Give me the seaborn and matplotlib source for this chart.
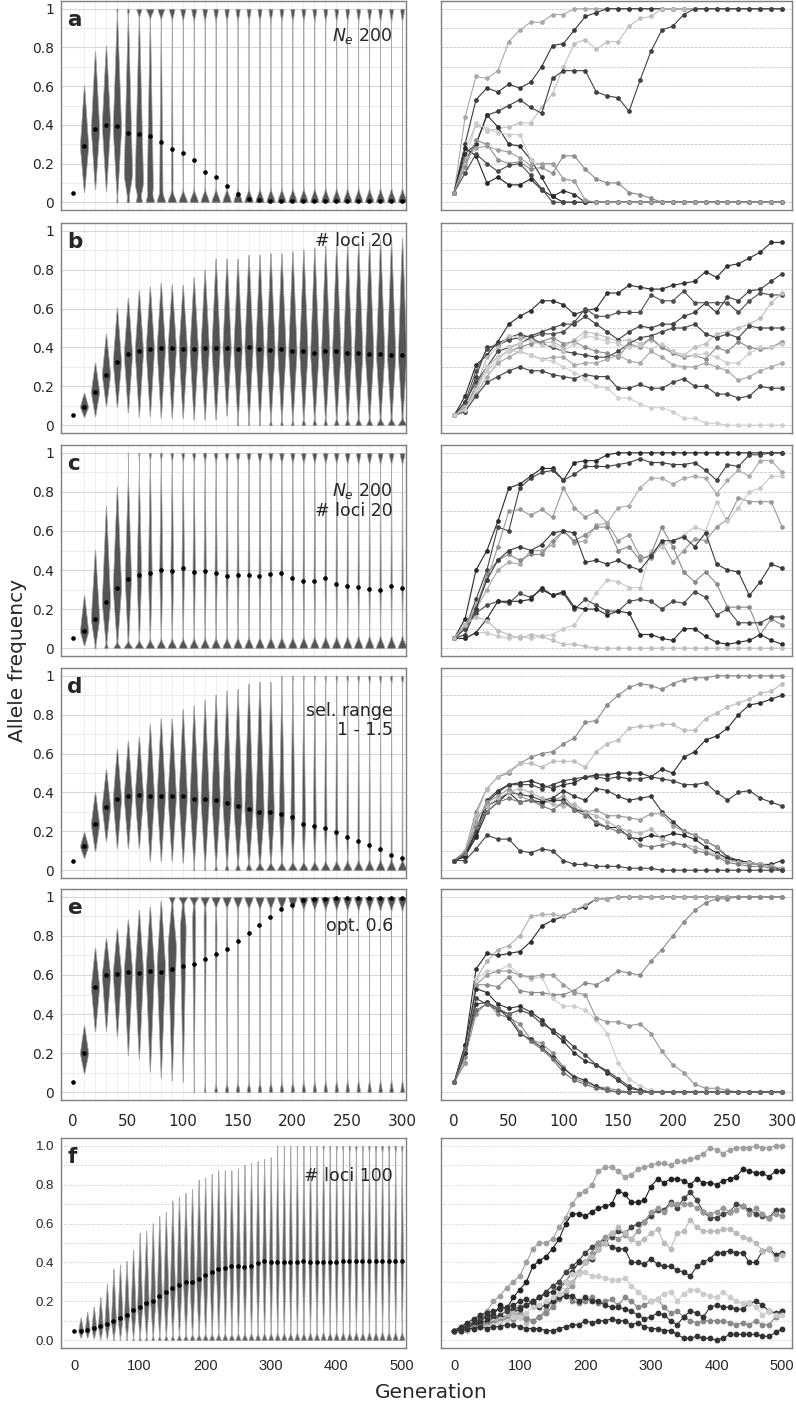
import numpy as np
import pandas as pd
import matplotlib
matplotlib.use("Agg")
import matplotlib.pyplot as plt
import seaborn as sns

# generations (one violin / one point every 10 generations)
gens_300 = list(range(0, 301, 10))
gens_500 = list(range(0, 501, 10))

# ---------------- left column: median dots ----------------
a_med = [0.05, 0.29, 0.38, 0.40, 0.395, 0.36, 0.355, 0.34, 0.31, 0.275,
         0.255, 0.22, 0.155, 0.13, 0.085, 0.045, 0.015, 0.01, 0.005, 0.005,
         0.005, 0.005, 0.005, 0.005, 0.005, 0.005, 0.005, 0.005, 0.005, 0.005, 0.005]
b_med = [0.05, 0.095, 0.17, 0.26, 0.325, 0.365, 0.38, 0.39, 0.395, 0.395,
         0.39, 0.39, 0.395, 0.395, 0.395, 0.39, 0.40, 0.39, 0.385, 0.39,
         0.38, 0.38, 0.37, 0.38, 0.38, 0.37, 0.37, 0.365, 0.365, 0.36, 0.36]
c_med = [0.05, 0.086, 0.15, 0.235, 0.31, 0.355, 0.375, 0.385, 0.40, 0.395,
         0.41, 0.39, 0.395, 0.385, 0.37, 0.375, 0.375, 0.37, 0.38, 0.385,
         0.36, 0.345, 0.345, 0.36, 0.33, 0.32, 0.315, 0.305, 0.30, 0.32, 0.31]
d_med = [0.05, 0.123, 0.237, 0.327, 0.365, 0.38, 0.385, 0.38, 0.38, 0.38,
         0.38, 0.365, 0.365, 0.36, 0.345, 0.33, 0.315, 0.30, 0.30, 0.29,
         0.275, 0.24, 0.23, 0.215, 0.195, 0.17, 0.15, 0.13, 0.11, 0.08, 0.065]
e_med = [0.05, 0.20, 0.54, 0.60, 0.605, 0.615, 0.61, 0.62, 0.615, 0.63,
         0.645, 0.655, 0.68, 0.705, 0.735, 0.775, 0.815, 0.855, 0.895, 0.94,
         0.96, 0.985, 0.99, 0.99, 0.995, 0.995, 0.995, 0.995, 0.995, 0.995, 0.995]
f_med = [0.05, 0.05, 0.055, 0.063, 0.072, 0.085, 0.097, 0.115, 0.13, 0.154,
         0.17, 0.19, 0.20, 0.225, 0.246, 0.27, 0.285, 0.30, 0.30, 0.316,
         0.337, 0.35, 0.366, 0.37, 0.38, 0.38, 0.375, 0.38, 0.397, 0.41,
         0.40, 0.40, 0.40, 0.40, 0.40, 0.405, 0.40, 0.40, 0.40, 0.40,
         0.40, 0.405, 0.405, 0.407, 0.407, 0.407, 0.407, 0.407, 0.41, 0.407, 0.407]

# ---------------- left column: violin shapes (gen 10 onwards) ----------------
# share lost (at 0), share fixed (at 1), and low / peak / high of the segregating loci
a_p0 = [0, 0, 0, 0.01, 0.02, 0.05, 0.10, 0.18, 0.30, 0.40, 0.46, 0.50, 0.53, 0.57, 0.60,
        0.62, 0.64, 0.65, 0.66, 0.66, 0.67, 0.67, 0.67, 0.68, 0.68, 0.68, 0.68, 0.68, 0.68, 0.68]
a_p1 = [0, 0, 0, 0.01, 0.02, 0.05, 0.10, 0.15, 0.20, 0.24, 0.27, 0.28, 0.29, 0.30, 0.30,
        0.31, 0.31, 0.31, 0.31, 0.32, 0.32, 0.32, 0.32, 0.31, 0.31, 0.31, 0.31, 0.31, 0.31, 0.31]
a_lo = [0.04, 0.05, 0.04, 0, 0, 0, 0, 0, 0, 0, 0, 0, 0, 0, 0,
        0, 0, 0, 0, 0, 0, 0, 0, 0, 0, 0, 0, 0, 0, 0]
a_pk = [0.29, 0.38, 0.40, 0.38, 0.14, 0.09, 0.06, 0.05, 0.10, 0.30, 0.5, 0.5, 0.5, 0.5, 0.5,
        0.5, 0.5, 0.5, 0.5, 0.5, 0.5, 0.5, 0.5, 0.5, 0.5, 0.5, 0.5, 0.5, 0.5, 0.5]
a_hi = [0.62, 0.80, 0.83, 1, 1, 1, 1, 1, 1, 1, 1, 1, 1, 1, 1,
        1, 1, 1, 1, 1, 1, 1, 1, 1, 1, 1, 1, 1, 1, 1]

b_p0 = [0, 0, 0, 0, 0, 0, 0, 0, 0, 0, 0, 0, 0, 0, 0.01,
        0.01, 0.01, 0.02, 0.02, 0.02, 0.03, 0.03, 0.03, 0.04, 0.04, 0.05, 0.05, 0.06, 0.06, 0.07]
b_p1 = [0, 0, 0, 0, 0, 0, 0, 0, 0, 0, 0, 0, 0, 0, 0,
        0, 0, 0, 0, 0, 0, 0, 0, 0, 0, 0, 0, 0, 0, 0]
b_lo = [0.04, 0.04, 0.09, 0.08, 0.05, 0.03, 0.03, 0.02, 0.02, 0.02, 0.01, 0.01, 0.01, 0.03, 0,
        0, 0, 0, 0, 0, 0, 0, 0, 0, 0, 0, 0, 0, 0, 0]
b_hi = [0.17, 0.33, 0.48, 0.62, 0.67, 0.71, 0.73, 0.75, 0.74, 0.74, 0.78, 0.82, 0.88, 0.88, 0.88,
        0.90, 0.90, 0.91, 0.91, 0.92, 0.93, 0.94, 0.95, 0.96, 0.96, 0.97, 0.97, 0.98, 0.98, 0.99]

c_p0 = [0, 0.01, 0.03, 0.06, 0.10, 0.14, 0.17, 0.20, 0.22, 0.24, 0.25, 0.26, 0.27, 0.28, 0.29,
        0.30, 0.30, 0.31, 0.31, 0.32, 0.32, 0.33, 0.33, 0.34, 0.34, 0.35, 0.35, 0.35, 0.36, 0.36]
c_p1 = [0, 0, 0, 0, 0.01, 0.02, 0.04, 0.05, 0.07, 0.08, 0.09, 0.10, 0.11, 0.12, 0.13,
        0.14, 0.15, 0.15, 0.16, 0.16, 0.17, 0.17, 0.18, 0.18, 0.19, 0.19, 0.20, 0.20, 0.20, 0.21]
c_lo = [0.01, 0, 0, 0, 0, 0, 0, 0, 0, 0, 0, 0, 0, 0, 0,
        0, 0, 0, 0, 0, 0, 0, 0, 0, 0, 0, 0, 0, 0, 0]
c_hi = [0.28, 0.52, 0.75, 0.85, 0.90, 0.92, 1, 1, 1, 1, 1, 1, 1, 1, 1,
        1, 1, 1, 1, 1, 1, 1, 1, 1, 1, 1, 1, 1, 1, 1]

d_p0 = [0, 0, 0, 0, 0, 0, 0, 0, 0, 0, 0.01, 0.01, 0.02, 0.03, 0.04,
        0.05, 0.07, 0.09, 0.12, 0.15, 0.18, 0.21, 0.24, 0.27, 0.30, 0.33, 0.36, 0.39, 0.42, 0.45]
d_p1 = [0, 0, 0, 0, 0, 0, 0, 0, 0, 0, 0, 0, 0, 0, 0,
        0, 0, 0, 0.01, 0.02, 0.02, 0.03, 0.04, 0.05, 0.06, 0.07, 0.08, 0.09, 0.10, 0.11]
d_lo = [0.06, 0.09, 0.14, 0.10, 0.10, 0.10, 0.03, 0.03, 0.03, 0.02, 0.01, 0, 0, 0, 0,
        0, 0, 0, 0, 0, 0, 0, 0, 0, 0, 0, 0, 0, 0, 0]
d_hi = [0.20, 0.41, 0.53, 0.64, 0.68, 0.70, 0.77, 0.80, 0.80, 0.85, 0.87, 0.90, 0.93, 0.95, 0.96,
        0.99, 1, 1, 1, 1, 1, 1, 1, 1, 1, 1, 1, 1, 1, 1]

e_p0 = [0, 0, 0, 0, 0, 0, 0, 0, 0, 0, 0.01, 0.05, 0.10, 0.14, 0.17,
        0.19, 0.21, 0.22, 0.23, 0.24, 0.25, 0.26, 0.27, 0.27, 0.28, 0.28, 0.29, 0.29, 0.30, 0.30]
e_p1 = [0, 0, 0, 0, 0, 0, 0, 0, 0.05, 0.10, 0.18, 0.25, 0.30, 0.35, 0.40,
        0.45, 0.50, 0.54, 0.57, 0.60, 0.62, 0.64, 0.65, 0.66, 0.67, 0.68, 0.68, 0.69, 0.69, 0.69]
e_lo = [0.09, 0.30, 0.30, 0.27, 0.17, 0.15, 0.08, 0.05, 0.03, 0.02, 0, 0, 0, 0, 0,
        0, 0, 0, 0, 0, 0, 0, 0, 0, 0, 0, 0, 0, 0, 0]
e_pk = [0.20, 0.54, 0.60, 0.61, 0.62, 0.62, 0.63, 0.65, 0.75, 0.85, 0.90, 0.90, 0.85, 0.80, 0.75,
        0.70, 0.65, 0.60, 0.60, 0.60, 0.60, 0.60, 0.60, 0.60, 0.60, 0.60, 0.60, 0.60, 0.60, 0.60]
e_hi = [0.35, 0.75, 0.80, 0.85, 0.90, 0.95, 0.97, 1, 1, 1, 1, 1, 1, 1, 1,
        1, 1, 1, 1, 1, 1, 1, 1, 1, 1, 1, 1, 1, 1, 1]

f_p0 = [0, 0, 0, 0, 0, 0.01, 0.01, 0.02, 0.02, 0.03, 0.03, 0.04, 0.04, 0.05, 0.05,
        0.06, 0.06, 0.07, 0.07, 0.08, 0.08, 0.08, 0.09, 0.09, 0.09, 0.10, 0.10, 0.10, 0.10, 0.11,
        0.11, 0.11, 0.11, 0.12, 0.12, 0.12, 0.12, 0.12, 0.13, 0.13,
        0.13, 0.13, 0.13, 0.14, 0.14, 0.14, 0.14, 0.14, 0.15, 0.15]
f_p1 = [0, 0, 0, 0, 0, 0, 0, 0, 0, 0, 0, 0, 0, 0, 0,
        0, 0, 0, 0, 0, 0, 0, 0, 0, 0, 0, 0, 0, 0, 0,
        0.01, 0.01, 0.01, 0.02, 0.02, 0.02, 0.02, 0.03, 0.03, 0.03,
        0.03, 0.04, 0.04, 0.04, 0.04, 0.05, 0.05, 0.05, 0.05, 0.05]
f_lo = [0.01, 0.01, 0.005, 0, 0, 0, 0, 0, 0, 0, 0, 0, 0, 0, 0,
        0, 0, 0, 0, 0, 0, 0, 0, 0, 0, 0, 0, 0, 0, 0,
        0, 0, 0, 0, 0, 0, 0, 0, 0, 0, 0, 0, 0, 0, 0, 0, 0, 0, 0, 0]
f_hi = [0.12, 0.15, 0.18, 0.23, 0.30, 0.38, 0.40, 0.42, 0.48, 0.57,
        0.58, 0.62, 0.66, 0.68, 0.74, 0.76, 0.78, 0.80, 0.85, 0.86,
        0.88, 0.90, 0.90, 0.90, 0.91, 0.93, 0.94, 0.95, 0.96, 0.97,
        0.97, 0.98, 0.98, 0.98, 0.99, 0.99, 0.99, 1, 1, 1,
        1, 1, 1, 1, 1, 1, 1, 1, 1, 1]

# ---------------- right column: 10 example loci per scenario ----------------
gray_a = ["#a8a8a8", "#3a3a3a", "#c0c0c0", "#404040", "#303030",
          "#cccccc", "#8c8c8c", "#252525", "#4a4a4a", "#a0a0a0"]
traj_a = [
    [0.05, 0.44, 0.65, 0.64, 0.68, 0.83, 0.89, 0.93, 0.93, 0.97, 0.97, 1, 1, 1, 1, 1, 1, 1, 1, 1, 1, 1, 1, 1, 1, 1, 1, 1, 1, 1, 1],
    [0.05, 0.30, 0.53, 0.59, 0.57, 0.61, 0.59, 0.62, 0.70, 0.81, 0.82, 0.89, 0.96, 0.98, 1, 1, 1, 1, 1, 1, 1, 1, 1, 1, 1, 1, 1, 1, 1, 1, 1],
    [0.05, 0.27, 0.40, 0.37, 0.38, 0.39, 0.41, 0.41, 0.49, 0.56, 0.70, 0.82, 0.84, 0.79, 0.83, 0.83, 0.91, 0.95, 0.96, 1, 1, 1, 1, 1, 1, 1, 1, 1, 1, 1, 1],
    [0.05, 0.22, 0.30, 0.45, 0.47, 0.50, 0.53, 0.49, 0.46, 0.64, 0.68, 0.68, 0.68, 0.57, 0.55, 0.54, 0.47, 0.63, 0.78, 0.89, 0.91, 0.97, 1, 1, 1, 1, 1, 1, 1, 1, 1],
    [0.05, 0.25, 0.30, 0.45, 0.39, 0.30, 0.29, 0.22, 0.13, 0.03, 0.06, 0.04, 0, 0, 0, 0, 0, 0, 0, 0, 0, 0, 0, 0, 0, 0, 0, 0, 0, 0, 0],
    [0.05, 0.20, 0.41, 0.38, 0.36, 0.35, 0.35, 0.22, 0.19, 0.20, 0.12, 0.11, 0.01, 0, 0, 0, 0, 0, 0, 0, 0, 0, 0, 0, 0, 0, 0, 0, 0, 0, 0],
    [0.05, 0.18, 0.32, 0.30, 0.22, 0.20, 0.21, 0.17, 0.18, 0.15, 0.24, 0.24, 0.17, 0.12, 0.10, 0.10, 0.05, 0.04, 0.02, 0, 0, 0, 0, 0, 0, 0, 0, 0, 0, 0, 0],
    [0.05, 0.28, 0.24, 0.10, 0.13, 0.09, 0.09, 0.12, 0.065, 0.03, 0, 0, 0, 0, 0, 0, 0, 0, 0, 0, 0, 0, 0, 0, 0, 0, 0, 0, 0, 0, 0],
    [0.05, 0.15, 0.25, 0.20, 0.16, 0.19, 0.20, 0.14, 0.07, 0, 0, 0, 0, 0, 0, 0, 0, 0, 0, 0, 0, 0, 0, 0, 0, 0, 0, 0, 0, 0, 0],
    [0.05, 0.22, 0.28, 0.29, 0.27, 0.26, 0.23, 0.19, 0.20, 0.20, 0.12, 0.11, 0.01, 0, 0, 0, 0, 0, 0, 0, 0, 0, 0, 0, 0, 0, 0, 0, 0, 0, 0],
]

gray_b = ["#303030", "#404040", "#505050", "#bdbdbd", "#454545",
          "#8c8c8c", "#cccccc", "#a8a8a8", "#454545", "#cfcfcf"]
traj_b = [
    [0.05, 0.15, 0.31, 0.36, 0.43, 0.52, 0.56, 0.59, 0.64, 0.64, 0.62, 0.57, 0.59, 0.60, 0.68, 0.68, 0.72, 0.71, 0.70, 0.70, 0.72, 0.73, 0.74, 0.79, 0.76, 0.82, 0.83, 0.86, 0.89, 0.94, 0.94],
    [0.05, 0.10, 0.25, 0.40, 0.41, 0.44, 0.45, 0.46, 0.48, 0.50, 0.52, 0.52, 0.56, 0.52, 0.48, 0.44, 0.48, 0.51, 0.50, 0.52, 0.52, 0.56, 0.58, 0.63, 0.58, 0.66, 0.64, 0.69, 0.70, 0.74, 0.78],
    [0.05, 0.12, 0.28, 0.39, 0.42, 0.45, 0.47, 0.45, 0.47, 0.47, 0.48, 0.53, 0.60, 0.56, 0.56, 0.58, 0.58, 0.58, 0.67, 0.64, 0.64, 0.69, 0.63, 0.63, 0.63, 0.63, 0.58, 0.64, 0.68, 0.67, 0.67],
    [0.05, 0.10, 0.20, 0.35, 0.40, 0.46, 0.45, 0.44, 0.42, 0.43, 0.40, 0.44, 0.48, 0.47, 0.45, 0.43, 0.44, 0.42, 0.44, 0.40, 0.38, 0.36, 0.40, 0.42, 0.47, 0.48, 0.50, 0.52, 0.55, 0.63, 0.68],
    [0.05, 0.12, 0.22, 0.30, 0.38, 0.40, 0.42, 0.45, 0.42, 0.40, 0.38, 0.37, 0.36, 0.35, 0.35, 0.38, 0.42, 0.45, 0.46, 0.48, 0.50, 0.50, 0.52, 0.47, 0.45, 0.47, 0.45, 0.51, 0.50, 0.50, 0.50],
    [0.05, 0.08, 0.20, 0.30, 0.35, 0.38, 0.40, 0.42, 0.43, 0.45, 0.42, 0.43, 0.40, 0.38, 0.37, 0.35, 0.42, 0.40, 0.45, 0.40, 0.37, 0.35, 0.36, 0.34, 0.40, 0.38, 0.43, 0.40, 0.39, 0.40, 0.43],
    [0.05, 0.07, 0.18, 0.28, 0.33, 0.40, 0.42, 0.44, 0.41, 0.41, 0.38, 0.42, 0.46, 0.45, 0.43, 0.42, 0.40, 0.41, 0.39, 0.42, 0.38, 0.36, 0.36, 0.37, 0.35, 0.32, 0.32, 0.37, 0.40, 0.40, 0.42],
    [0.05, 0.09, 0.16, 0.25, 0.32, 0.35, 0.38, 0.36, 0.34, 0.35, 0.35, 0.31, 0.32, 0.32, 0.34, 0.36, 0.33, 0.32, 0.38, 0.35, 0.31, 0.30, 0.30, 0.32, 0.30, 0.28, 0.23, 0.25, 0.28, 0.30, 0.32],
    [0.05, 0.07, 0.15, 0.22, 0.25, 0.28, 0.30, 0.28, 0.28, 0.26, 0.25, 0.24, 0.26, 0.25, 0.25, 0.19, 0.19, 0.21, 0.19, 0.19, 0.22, 0.24, 0.20, 0.20, 0.16, 0.16, 0.14, 0.15, 0.20, 0.19, 0.19],
    [0.05, 0.08, 0.18, 0.30, 0.35, 0.38, 0.38, 0.36, 0.34, 0.33, 0.30, 0.27, 0.24, 0.20, 0.19, 0.14, 0.14, 0.11, 0.09, 0.09, 0.07, 0.035, 0.035, 0.01, 0.01, 0, 0, 0, 0, 0, 0],
]

gray_c = ["#2a2a2a", "#444444", "#999999", "#aaaaaa", "#c8c8c8",
          "#8a8a8a", "#3a3a3a", "#4a4a4a", "#2a2a2a", "#bdbdbd"]
traj_c = [
    [0.05, 0.15, 0.40, 0.50, 0.65, 0.82, 0.84, 0.88, 0.92, 0.92, 0.86, 0.95, 0.96, 0.96, 0.99, 1, 1, 1, 1, 1, 1, 1, 1, 1, 1, 1, 1, 1, 1, 1, 1],
    [0.05, 0.10, 0.25, 0.40, 0.62, 0.60, 0.82, 0.87, 0.90, 0.91, 0.86, 0.89, 0.93, 0.93, 0.93, 0.94, 0.95, 0.97, 0.95, 0.95, 0.94, 0.94, 0.95, 0.91, 0.86, 0.94, 0.93, 0.99, 0.99, 1, 1],
    [0.05, 0.12, 0.22, 0.35, 0.52, 0.70, 0.71, 0.68, 0.71, 0.67, 0.82, 0.72, 0.67, 0.70, 0.64, 0.55, 0.58, 0.47, 0.46, 0.54, 0.44, 0.50, 0.56, 0.55, 0.62, 0.66, 0.77, 0.75, 0.75, 0.75, 0.62],
    [0.05, 0.10, 0.20, 0.30, 0.40, 0.44, 0.43, 0.50, 0.50, 0.53, 0.60, 0.54, 0.55, 0.63, 0.64, 0.72, 0.73, 0.82, 0.87, 0.87, 0.84, 0.87, 0.88, 0.87, 0.79, 0.86, 0.91, 0.88, 0.96, 0.96, 0.90],
    [0.05, 0.05, 0.08, 0.08, 0.06, 0.05, 0.06, 0.05, 0.06, 0.07, 0.10, 0.12, 0.20, 0.28, 0.35, 0.34, 0.31, 0.31, 0.50, 0.52, 0.55, 0.58, 0.62, 0.60, 0.75, 0.65, 0.72, 0.80, 0.82, 0.88, 0.88],
    [0.05, 0.12, 0.20, 0.38, 0.45, 0.48, 0.45, 0.48, 0.48, 0.55, 0.60, 0.55, 0.58, 0.62, 0.62, 0.50, 0.52, 0.45, 0.48, 0.62, 0.52, 0.39, 0.34, 0.39, 0.33, 0.21, 0.21, 0.21, 0.07, 0.15, 0.12],
    [0.05, 0.07, 0.20, 0.35, 0.45, 0.50, 0.52, 0.50, 0.53, 0.59, 0.60, 0.59, 0.44, 0.45, 0.43, 0.45, 0.42, 0.40, 0.47, 0.55, 0.55, 0.57, 0.52, 0.59, 0.43, 0.40, 0.39, 0.27, 0.34, 0.43, 0.41],
    [0.05, 0.10, 0.18, 0.22, 0.24, 0.23, 0.28, 0.26, 0.30, 0.27, 0.28, 0.20, 0.25, 0.22, 0.19, 0.19, 0.24, 0.25, 0.24, 0.20, 0.24, 0.23, 0.29, 0.26, 0.17, 0.20, 0.13, 0.13, 0.13, 0.16, 0.16],
    [0.05, 0.05, 0.08, 0.15, 0.24, 0.24, 0.24, 0.25, 0.31, 0.27, 0.29, 0.21, 0.20, 0.20, 0.17, 0.19, 0.18, 0.07, 0.07, 0.05, 0.04, 0.10, 0.10, 0.06, 0.03, 0.02, 0.03, 0.04, 0.07, 0.04, 0.02],
    [0.05, 0.12, 0.16, 0.14, 0.09, 0.07, 0.05, 0.07, 0.06, 0.04, 0.02, 0.02, 0.01, 0, 0, 0, 0, 0, 0, 0, 0, 0, 0, 0, 0, 0, 0, 0, 0, 0, 0],
]

gray_d = ["#8c8c8c", "#bdbdbd", "#303030", "#404040", "#3a3a3a",
          "#999999", "#2a2a2a", "#b5b5b5", "#7a7a7a", "#454545"]
traj_d = [
    [0.05, 0.10, 0.30, 0.42, 0.48, 0.50, 0.55, 0.58, 0.60, 0.61, 0.65, 0.68, 0.76, 0.77, 0.85, 0.90, 0.94, 0.96, 0.95, 0.93, 0.96, 0.98, 0.99, 0.99, 1, 1, 1, 1, 1, 1, 1],
    [0.05, 0.10, 0.28, 0.42, 0.48, 0.51, 0.55, 0.55, 0.53, 0.56, 0.56, 0.56, 0.53, 0.61, 0.65, 0.67, 0.73, 0.74, 0.74, 0.75, 0.75, 0.72, 0.72, 0.78, 0.81, 0.84, 0.86, 0.88, 0.91, 0.92, 0.96],
    [0.05, 0.08, 0.20, 0.35, 0.40, 0.44, 0.45, 0.46, 0.44, 0.42, 0.44, 0.45, 0.48, 0.49, 0.49, 0.50, 0.50, 0.50, 0.48, 0.52, 0.50, 0.58, 0.61, 0.67, 0.69, 0.73, 0.80, 0.85, 0.86, 0.88, 0.90],
    [0.05, 0.07, 0.20, 0.36, 0.41, 0.44, 0.44, 0.44, 0.42, 0.44, 0.46, 0.47, 0.48, 0.48, 0.47, 0.48, 0.47, 0.47, 0.48, 0.47, 0.46, 0.44, 0.44, 0.45, 0.40, 0.36, 0.40, 0.41, 0.37, 0.35, 0.33],
    [0.05, 0.08, 0.18, 0.33, 0.36, 0.40, 0.39, 0.38, 0.36, 0.37, 0.41, 0.38, 0.36, 0.42, 0.41, 0.38, 0.36, 0.37, 0.38, 0.30, 0.25, 0.20, 0.18, 0.15, 0.12, 0.07, 0.05, 0.04, 0.03, 0.03, 0.05],
    [0.05, 0.09, 0.25, 0.35, 0.38, 0.42, 0.38, 0.36, 0.34, 0.36, 0.38, 0.32, 0.30, 0.31, 0.28, 0.28, 0.27, 0.26, 0.29, 0.29, 0.23, 0.20, 0.18, 0.15, 0.12, 0.06, 0.04, 0.03, 0.03, 0.02, 0.01],
    [0.05, 0.07, 0.17, 0.30, 0.35, 0.40, 0.35, 0.36, 0.35, 0.36, 0.36, 0.31, 0.30, 0.24, 0.22, 0.22, 0.17, 0.16, 0.18, 0.17, 0.19, 0.18, 0.16, 0.12, 0.09, 0.06, 0.05, 0.04, 0.03, 0.02, 0.0],
    [0.05, 0.09, 0.27, 0.33, 0.37, 0.40, 0.42, 0.40, 0.37, 0.34, 0.33, 0.34, 0.30, 0.28, 0.25, 0.22, 0.20, 0.19, 0.21, 0.16, 0.14, 0.13, 0.12, 0.10, 0.08, 0.05, 0.04, 0.04, 0.03, 0.02, 0.01],
    [0.05, 0.09, 0.22, 0.30, 0.35, 0.37, 0.35, 0.36, 0.33, 0.31, 0.35, 0.31, 0.28, 0.25, 0.22, 0.20, 0.18, 0.13, 0.12, 0.13, 0.14, 0.13, 0.10, 0.09, 0.07, 0.04, 0.03, 0.02, 0.02, 0.01, 0.0],
    [0.05, 0.05, 0.11, 0.18, 0.16, 0.16, 0.10, 0.09, 0.11, 0.10, 0.05, 0.03, 0.03, 0.02, 0.02, 0.02, 0.01, 0.01, 0.01, 0, 0, 0, 0, 0, 0, 0, 0, 0, 0, 0, 0],
]

gray_e = ["#2e2e2e", "#b0b0b0", "#8c8c8c", "#cccccc", "#999999",
          "#303030", "#454545", "#8a8a8a", "#383838", "#6e6e6e"]
traj_e = [
    [0.05, 0.24, 0.63, 0.71, 0.70, 0.71, 0.72, 0.77, 0.85, 0.88, 0.90, 0.93, 0.95, 0.99, 0.99, 1, 1, 1, 1, 1, 1, 1, 1, 1, 1, 1, 1, 1, 1, 1, 1],
    [0.05, 0.20, 0.58, 0.67, 0.73, 0.75, 0.80, 0.90, 0.91, 0.91, 0.90, 0.93, 0.96, 0.99, 0.99, 1, 1, 1, 1, 1, 1, 1, 1, 1, 1, 1, 1, 1, 1, 1, 1],
    [0.05, 0.15, 0.55, 0.55, 0.54, 0.59, 0.52, 0.51, 0.51, 0.50, 0.50, 0.52, 0.56, 0.55, 0.58, 0.62, 0.61, 0.60, 0.67, 0.73, 0.80, 0.87, 0.93, 0.97, 0.99, 0.99, 1, 1, 1, 1, 1],
    [0.05, 0.20, 0.58, 0.62, 0.62, 0.65, 0.60, 0.58, 0.59, 0.48, 0.44, 0.44, 0.42, 0.37, 0.30, 0.15, 0.07, 0.03, 0.01, 0, 0, 0, 0, 0, 0, 0, 0, 0, 0, 0, 0],
    [0.05, 0.15, 0.55, 0.60, 0.62, 0.62, 0.60, 0.59, 0.60, 0.60, 0.55, 0.51, 0.50, 0.38, 0.36, 0.36, 0.34, 0.35, 0.30, 0.21, 0.14, 0.10, 0.04, 0.02, 0.02, 0.01, 0, 0, 0, 0, 0],
    [0.05, 0.24, 0.53, 0.51, 0.45, 0.43, 0.44, 0.41, 0.37, 0.31, 0.26, 0.20, 0.16, 0.14, 0.10, 0.06, 0.02, 0.01, 0, 0, 0, 0, 0, 0, 0, 0, 0, 0, 0, 0, 0],
    [0.05, 0.20, 0.48, 0.45, 0.42, 0.40, 0.42, 0.40, 0.35, 0.32, 0.28, 0.23, 0.19, 0.14, 0.11, 0.07, 0.03, 0.01, 0, 0, 0, 0, 0, 0, 0, 0, 0, 0, 0, 0, 0],
    [0.05, 0.18, 0.40, 0.46, 0.40, 0.38, 0.35, 0.27, 0.25, 0.20, 0.13, 0.07, 0.05, 0.03, 0.02, 0.01, 0, 0, 0, 0, 0, 0, 0, 0, 0, 0, 0, 0, 0, 0, 0],
    [0.05, 0.20, 0.45, 0.46, 0.43, 0.38, 0.30, 0.27, 0.23, 0.18, 0.12, 0.08, 0.06, 0.03, 0.01, 0, 0, 0, 0, 0, 0, 0, 0, 0, 0, 0, 0, 0, 0, 0, 0],
    [0.05, 0.22, 0.42, 0.45, 0.43, 0.40, 0.31, 0.26, 0.22, 0.17, 0.10, 0.06, 0.04, 0.02, 0.01, 0, 0, 0, 0, 0, 0, 0, 0, 0, 0, 0, 0, 0, 0, 0, 0],
]

gray_f = ["#a0a0a0", "#222222", "#444444", "#999999", "#333333",
          "#bbbbbb", "#888888", "#333333", "#cccccc", "#333333"]
traj_f = [
    [0.05, 0.06, 0.08, 0.10, 0.12, 0.15, 0.20, 0.23, 0.27, 0.30, 0.33, 0.40, 0.47, 0.50, 0.50, 0.52, 0.58, 0.63, 0.70, 0.75,
     0.77, 0.80, 0.87, 0.89, 0.89, 0.87, 0.84, 0.85, 0.88, 0.89, 0.90, 0.91, 0.91, 0.90, 0.92, 0.92, 0.93, 0.94, 0.96, 0.99,
     0.98, 0.96, 0.98, 0.99, 0.99, 0.99, 1.0, 0.99, 0.99, 1.0, 1.0],
    [0.05, 0.06, 0.07, 0.08, 0.10, 0.12, 0.13, 0.18, 0.16, 0.22, 0.26, 0.30, 0.38, 0.41, 0.43, 0.47, 0.52, 0.60, 0.65, 0.65,
     0.64, 0.66, 0.68, 0.69, 0.70, 0.77, 0.75, 0.71, 0.71, 0.72, 0.79, 0.83, 0.81, 0.83, 0.83, 0.82, 0.80, 0.83, 0.81, 0.81,
     0.80, 0.82, 0.83, 0.84, 0.88, 0.87, 0.86, 0.86, 0.84, 0.87, 0.87],
    [0.05, 0.06, 0.08, 0.09, 0.11, 0.13, 0.12, 0.13, 0.15, 0.16, 0.17, 0.18, 0.20, 0.22, 0.25, 0.28, 0.30, 0.35, 0.38, 0.41,
     0.45, 0.48, 0.50, 0.52, 0.53, 0.56, 0.55, 0.58, 0.60, 0.61, 0.64, 0.67, 0.67, 0.71, 0.68, 0.73, 0.76, 0.72, 0.66, 0.63,
     0.63, 0.65, 0.66, 0.70, 0.69, 0.67, 0.65, 0.64, 0.63, 0.67, 0.67],
    [0.05, 0.05, 0.06, 0.07, 0.08, 0.09, 0.10, 0.11, 0.12, 0.13, 0.14, 0.12, 0.10, 0.12, 0.16, 0.20, 0.23, 0.25, 0.28, 0.35,
     0.40, 0.45, 0.50, 0.53, 0.55, 0.52, 0.54, 0.52, 0.56, 0.61, 0.66, 0.68, 0.66, 0.70, 0.70, 0.70, 0.70, 0.68, 0.66, 0.65,
     0.66, 0.68, 0.66, 0.67, 0.69, 0.65, 0.68, 0.65, 0.63, 0.65, 0.64],
    [0.05, 0.06, 0.07, 0.08, 0.09, 0.10, 0.11, 0.12, 0.12, 0.14, 0.16, 0.18, 0.20, 0.22, 0.24, 0.25, 0.27, 0.30, 0.35, 0.40,
     0.40, 0.42, 0.47, 0.50, 0.48, 0.47, 0.47, 0.40, 0.40, 0.39, 0.42, 0.39, 0.38, 0.38, 0.36, 0.35, 0.33, 0.38, 0.40, 0.42,
     0.45, 0.45, 0.46, 0.45, 0.45, 0.40, 0.40, 0.46, 0.47, 0.44, 0.45],
    [0.05, 0.05, 0.06, 0.06, 0.07, 0.08, 0.10, 0.11, 0.12, 0.14, 0.12, 0.09, 0.10, 0.12, 0.14, 0.18, 0.22, 0.26, 0.30, 0.35,
     0.40, 0.43, 0.47, 0.50, 0.55, 0.58, 0.55, 0.52, 0.50, 0.52, 0.55, 0.57, 0.50, 0.47, 0.55, 0.56, 0.62, 0.58, 0.56, 0.56,
     0.56, 0.57, 0.57, 0.55, 0.53, 0.52, 0.50, 0.46, 0.47, 0.42, 0.44],
    [0.05, 0.05, 0.06, 0.07, 0.07, 0.08, 0.09, 0.10, 0.11, 0.11, 0.12, 0.11, 0.10, 0.12, 0.14, 0.17, 0.21, 0.23, 0.20, 0.19,
     0.20, 0.22, 0.19, 0.20, 0.21, 0.18, 0.22, 0.20, 0.17, 0.18, 0.20, 0.21, 0.17, 0.14, 0.15, 0.12, 0.10, 0.09, 0.10, 0.10,
     0.10, 0.10, 0.09, 0.08, 0.09, 0.08, 0.10, 0.08, 0.08, 0.12, 0.15],
    [0.05, 0.07, 0.09, 0.11, 0.13, 0.14, 0.15, 0.16, 0.17, 0.18, 0.20, 0.21, 0.19, 0.17, 0.18, 0.20, 0.22, 0.23, 0.23, 0.20,
     0.22, 0.20, 0.20, 0.18, 0.17, 0.17, 0.16, 0.15, 0.13, 0.11, 0.12, 0.14, 0.13, 0.10, 0.08, 0.12, 0.15, 0.14, 0.12, 0.17,
     0.18, 0.17, 0.17, 0.16, 0.16, 0.19, 0.20, 0.18, 0.15, 0.14, 0.15],
    [0.05, 0.04, 0.05, 0.06, 0.07, 0.07, 0.08, 0.09, 0.10, 0.12, 0.12, 0.14, 0.17, 0.18, 0.20, 0.22, 0.24, 0.30, 0.34, 0.34,
     0.35, 0.33, 0.33, 0.32, 0.31, 0.31, 0.32, 0.28, 0.25, 0.22, 0.20, 0.21, 0.24, 0.25, 0.20, 0.24, 0.26, 0.26, 0.24, 0.23,
     0.22, 0.25, 0.22, 0.20, 0.19, 0.19, 0.17, 0.13, 0.15, 0.13, 0.13],
    [0.05, 0.05, 0.06, 0.06, 0.07, 0.06, 0.07, 0.07, 0.08, 0.08, 0.07, 0.06, 0.06, 0.06, 0.05, 0.05, 0.06, 0.07, 0.08, 0.08,
     0.10, 0.09, 0.10, 0.10, 0.11, 0.10, 0.10, 0.08, 0.09, 0.07, 0.06, 0.06, 0.05, 0.05, 0.03, 0.01, 0.01, 0.02, 0.01, 0.01,
     0.00, 0.01, 0.03, 0.03, 0.03, 0.03, 0.03, 0.02, 0.02, 0.04, 0.06],
]

labels = ["a", "b", "c", "d", "e", "f"]
notes = [r"$N_e$ 200", "# loci 20", "$N_e$ 200\n# loci 20", "sel. range\n1 - 1.5", "opt. 0.6", "# loci 100"]


def violin_frame(gens, p0, p1, lo, pk, hi, n=400):
    # loci lost / fixed plus a triangular spread of still segregating loci
    g_col, v_col = [], []
    for g, a0, a1, l, c, h in zip(gens, p0, p1, lo, pk, hi):
        n0 = int(round(a0 * n))
        n1 = int(round(a1 * n))
        ns = n - n0 - n1
        c = min(max(c, l), h)
        q = (np.arange(ns) + 0.5) / max(ns, 1)
        fc = (c - l) / (h - l)
        seg = np.where(q < fc,
                       l + np.sqrt(q * (h - l) * (c - l)),
                       h - np.sqrt((1 - q) * (h - l) * (h - c)))
        vals = np.concatenate([np.zeros(n0), np.ones(n1), seg])
        g_col += [g] * len(vals)
        v_col += list(vals)
    return pd.DataFrame({"gen": g_col, "freq": v_col})


sns.set_style("white")
plt.rcParams["font.family"] = ["DejaVu Sans"]
plt.rcParams["mathtext.fontset"] = "dejavusans"

fig = plt.figure(figsize=(7.96, 14.04), dpi=100)
W, H = 796, 1404


def box(l, t, r, b):
    return [l / W, 1 - b / H, (r - l) / W, (b - t) / H]


rows = [(1, 210), (223, 433), (445, 656), (668, 878), (889, 1100), (1138, 1348)]

violin_sets = [
    (a_p0, a_p1, a_lo, a_pk, a_hi),
    (b_p0, b_p1, b_lo, b_med[1:], b_hi),
    (c_p0, c_p1, c_lo, c_med[1:], c_hi),
    (d_p0, d_p1, d_lo, d_med[1:], d_hi),
    (e_p0, e_p1, e_lo, e_pk, e_hi),
    (f_p0, f_p1, f_lo, f_med[1:], f_hi),
]
meds = [a_med, b_med, c_med, d_med, e_med, f_med]
trajs = [traj_a, traj_b, traj_c, traj_d, traj_e, traj_f]
grays = [gray_a, gray_b, gray_c, gray_d, gray_e, gray_f]

for i in range(6):
    top, bot = rows[i]
    long_run = i == 5
    gens = gens_500 if long_run else gens_300

    # ---- left: violins of all loci ----
    ax = fig.add_axes(box(61, top, 406, bot))
    df = violin_frame(gens[1:], *violin_sets[i])
    sns.violinplot(data=df, x="gen", y="freq", orient="x", native_scale=True,
                   color="#626262" if long_run else "#555555", saturation=1,
                   inner=None, cut=0, density_norm="width", bw_method=0.07,
                   gridsize=300, width=0.75, linewidth=0.5,
                   linecolor="#a6a6a6", ax=ax)
    sns.scatterplot(x=gens, y=meds[i], color="black", s=11, linewidth=0,
                    ax=ax, zorder=5)
    ax.set_xlabel("")
    ax.set_ylabel("")
    ax.set_ylim(-0.04, 1.04)
    ax.set_yticks([0, 0.2, 0.4, 0.6, 0.8, 1.0])
    ax.set_yticks([0.1, 0.3, 0.5, 0.7, 0.9], minor=True)
    if long_run:
        ax.set_xlim(-20, 506.5)
        ax.set_yticklabels(["0.0", "0.2", "0.4", "0.6", "0.8", "1.0"], family="Liberation Sans")
        ax.set_xticks(gens)
        ax.set_xticklabels([str(g) if g % 100 == 0 else "" for g in gens], family="Liberation Sans")
        ax.grid(axis="y", which="both", color="#c4c4c4", lw=0.7, ls=(0, (1, 1.5)))
        ax.tick_params(axis="y", length=3, color="#888888", labelsize=9.5, pad=2)
        ax.tick_params(axis="x", length=4, color="#888888", labelsize=10.5, pad=4)
    else:
        ax.set_xlim(-11, 303.6)
        ax.set_yticklabels(["0", "0.2", "0.4", "0.6", "0.8", "1"])
        xt = gens if i == 4 else gens[1:]
        ax.set_xticks(xt)
        if i == 4:
            ax.set_xticklabels([str(g) if g % 50 == 0 else "" for g in xt])
        else:
            ax.set_xticklabels([])
        ax.grid(axis="y", which="major", color="#d8d8d8", lw=0.8)
        ax.grid(axis="y", which="minor", color="#e8e8e8", lw=0.6)
        ax.grid(axis="x", which="major", color="#ececec", lw=0.6)
        ax.tick_params(axis="y", which="both", length=0, labelsize=10, pad=5)
        ax.tick_params(axis="x", length=5, color="#999999", width=0.8, labelsize=11, pad=5)
    ax.tick_params(axis="y", which="minor", length=0)
    ax.set_axisbelow(True)
    for s in ax.spines.values():
        s.set_color("#7f7f7f")
        s.set_linewidth(1.0)
    ax.text(0.018, 0.955, labels[i], transform=ax.transAxes, fontsize=15.5,
            fontweight="bold", va="top", ha="left")
    note_y = [0.88, 0.955, 0.83, 0.84, 0.865, 0.86][i]
    ax.text(0.962, note_y, notes[i], transform=ax.transAxes, fontsize=12.5,
            va="top", ha="right", multialignment="right", linespacing=1.1)

    # ---- right: ten example trajectories ----
    axr = fig.add_axes(box(441, top, 792, bot))
    for vals, col in zip(trajs[i], grays[i]):
        sns.lineplot(x=gens, y=vals, color=col, marker="o",
                     markersize=4.2 if long_run else 3.4, markeredgewidth=0,
                     linewidth=0.8, ax=axr)
    axr.set_ylim(-0.04, 1.04)
    axr.set_yticks([])
    axr.set_yticks([0, 0.1, 0.2, 0.3, 0.4, 0.5, 0.6, 0.7, 0.8, 0.9, 1.0], minor=True)
    axr.grid(axis="y", which="minor", color="#d0d0d0", lw=0.7,
             ls=(0, (1, 1.5)) if long_run else (0, (3, 1.2)))
    axr.set_axisbelow(True)
    if long_run:
        axr.set_xlim(-20, 515)
        axr.set_xticks([0, 100, 200, 300, 400, 500])
        axr.set_xticklabels(["0", "100", "200", "300", "400", "500"], family="Liberation Sans")
        axr.tick_params(axis="x", length=4, color="#888888", labelsize=10.5, pad=4)
    else:
        axr.set_xlim(-12, 309)
        if i == 4:
            axr.set_xticks([0, 50, 100, 150, 200, 250, 300])
            axr.set_xticklabels(["0", "50", "100", "150", "200", "250", "300"])
        else:
            axr.set_xticks([50, 100, 150, 200, 250, 300])
            axr.set_xticklabels([])
        axr.tick_params(axis="x", length=5, color="#999999", width=0.8, labelsize=11, pad=5)
    axr.tick_params(axis="y", which="both", length=0)
    axr.set_xlabel("")
    axr.set_ylabel("")
    for s in axr.spines.values():
        s.set_color("#7f7f7f")
        s.set_linewidth(1.0)

fig.text(18 / W, 1 - 660 / H, "Allele frequency", rotation=90, fontsize=14.5,
         ha="center", va="center")
fig.text(431 / W, 1 - 1393 / H, "Generation", fontsize=14.5, ha="center", va="center")

fig.savefig("out.png", dpi=100)
